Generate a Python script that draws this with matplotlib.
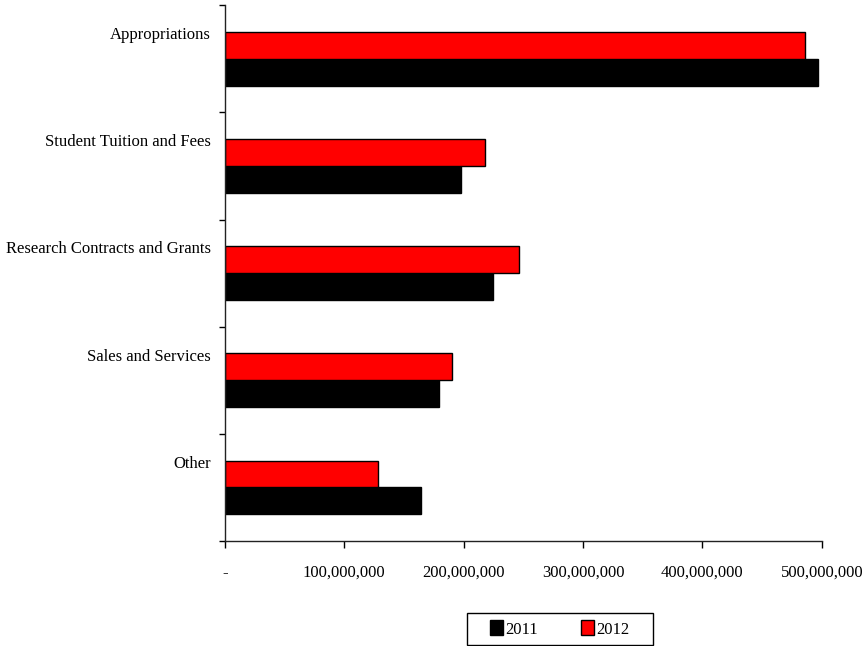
import matplotlib.pyplot as plt
from matplotlib.patches import Rectangle
from matplotlib.ticker import FuncFormatter, FixedLocator

# revenue sources, top to bottom
categories = ["Appropriations", "Student Tuition and Fees",
              "Research Contracts and Grants", "Sales and Services", "Other"]
rev_2011 = [497e6, 198e6, 225e6, 179e6, 164e6]
rev_2012 = [486e6, 218e6, 246e6, 190e6, 128e6]

plt.rcParams['font.family'] = ['Liberation Serif', 'DejaVu Serif']
plt.rcParams['font.size'] = 12

fig = plt.figure(figsize=(8.65, 6.46), dpi=100)
ax = fig.add_axes([0.260, 0.1625, 0.690, 0.8295])

pos = list(range(len(categories)))
h = 0.25
ax.barh([p + h / 2 for p in pos], rev_2011, height=h, color='black',
        edgecolor='black', linewidth=1.0, label='2011')
ax.barh([p - h / 2 for p in pos], rev_2012, height=h, color='#ff0000',
        edgecolor='black', linewidth=1.0, label='2012')

ax.set_xlim(0, 500e6)
ax.set_ylim(len(categories) - 0.5, -0.5)

# x axis: ticks every 100M, zero shown as a dash
ax.set_xticks([i * 100e6 for i in range(6)])
ax.xaxis.set_major_formatter(FuncFormatter(lambda v, p: '-' if v == 0 else f'{v:,.0f}'))
ax.tick_params(axis='x', direction='out', length=5, width=1, pad=12)

# y axis: category names sit level with the top of each group,
# small tick marks on the boundaries between groups
ax.yaxis.set_major_locator(FixedLocator([p - 0.24 for p in pos]))
ax.set_yticklabels(categories)
ax.yaxis.set_minor_locator(FixedLocator([p - 0.5 for p in range(len(categories) + 1)]))
ax.tick_params(axis='y', which='major', length=0, pad=10)
ax.tick_params(axis='y', which='minor', direction='out', length=4, width=1)

for side in ('top', 'right'):
    ax.spines[side].set_visible(False)
for side in ('left', 'bottom'):
    ax.spines[side].set_linewidth(1.0)
    ax.spines[side].set_color('#222222')

# legend entries without their own frame; a wider box is drawn around them
fig.legend(loc='lower left', bbox_to_anchor=(0.558, 0.0015), ncol=2,
           frameon=False, handlelength=0.75, handleheight=1.0,
           handletextpad=0.15, columnspacing=2.6, borderpad=0.45,
           borderaxespad=0)
fig.patches.append(Rectangle((467 / 865, 1 / 646), 186 / 865, 32 / 646,
                             transform=fig.transFigure, fill=False,
                             edgecolor='black', linewidth=1.0))

fig.savefig('out.png', dpi=100)
